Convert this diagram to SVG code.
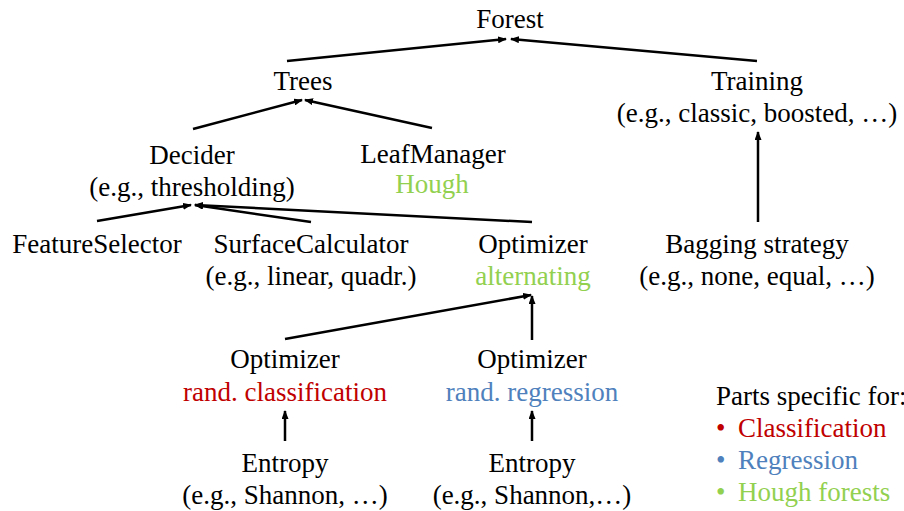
<svg xmlns="http://www.w3.org/2000/svg" width="904" height="511" viewBox="0 0 904 511">
  <style>
    text { font-family: "Liberation Serif", "Times New Roman", serif; font-size: 27px; fill: #000; }
    .c { text-anchor: middle; }
    .red { fill: #c00000; }
    .blue { fill: #4f81bd; }
    .green { fill: #92d050; }
    .link { stroke: #000; stroke-width: 2.5; fill: none; marker-end: url(#arrow); }
  </style>
  <defs>
    <marker id="arrow" markerUnits="userSpaceOnUse" markerWidth="9" markerHeight="7" refX="8" refY="3.5" orient="auto">
      <path d="M0,0 L9,3.5 L0,7 z" fill="#000"/>
    </marker>
  </defs>
  <rect width="904" height="511" fill="#fff"/>

  <!-- arrows point from each part to the component that uses it -->
  <g id="connectors">
    <line class="link" x1="287" y1="61" x2="506" y2="39"/>
    <line class="link" x1="757" y1="61" x2="511" y2="39"/>
    <line class="link" x1="193" y1="129" x2="302" y2="100"/>
    <line class="link" x1="432" y1="128" x2="305" y2="100"/>
    <line class="link" x1="758" y1="222" x2="758" y2="132"/>
    <line class="link" x1="97" y1="221" x2="191" y2="205"/>
    <line class="link" x1="311" y1="222" x2="195" y2="205"/>
    <line class="link" x1="532" y1="222" x2="195" y2="205"/>
    <line class="link" x1="285" y1="339" x2="531" y2="295"/>
    <line class="link" x1="532" y1="340" x2="532" y2="296"/>
    <line class="link" x1="285" y1="441" x2="285" y2="411"/>
    <line class="link" x1="532" y1="441" x2="532" y2="411"/>
  </g>

  <g id="forest"><text class="c" x="510" y="28">Forest</text></g>
  <g id="trees"><text class="c" x="303" y="90">Trees</text></g>
  <g id="training">
    <text class="c" x="757" y="90">Training</text>
    <text class="c" x="757" y="122">(e.g., classic, boosted, …)</text>
  </g>
  <g id="decider">
    <text class="c" x="192" y="164">Decider</text>
    <text class="c" x="192" y="196">(e.g., thresholding)</text>
  </g>
  <g id="leafmanager">
    <text class="c" x="433" y="163">LeafManager</text>
    <text class="c green" x="432" y="193">Hough</text>
  </g>
  <g id="featureselector"><text class="c" x="97" y="253">FeatureSelector</text></g>
  <g id="surfacecalculator">
    <text class="c" x="311" y="253">SurfaceCalculator</text>
    <text class="c" x="311" y="285">(e.g., linear, quadr.)</text>
  </g>
  <g id="optimizer-alternating">
    <text class="c" x="533" y="253">Optimizer</text>
    <text class="c green" x="533" y="285">alternating</text>
  </g>
  <g id="bagging">
    <text class="c" x="757" y="253">Bagging strategy</text>
    <text class="c" x="757" y="285">(e.g., none, equal, …)</text>
  </g>
  <g id="optimizer-classification">
    <text class="c" x="285" y="368">Optimizer</text>
    <text class="c red" x="285" y="401">rand. classification</text>
  </g>
  <g id="optimizer-regression">
    <text class="c" x="532" y="368">Optimizer</text>
    <text class="c blue" x="532" y="401">rand. regression</text>
  </g>
  <g id="entropy-classification">
    <text class="c" x="285" y="472">Entropy</text>
    <text class="c" x="285" y="504">(e.g., Shannon, …)</text>
  </g>
  <g id="entropy-regression">
    <text class="c" x="532" y="472">Entropy</text>
    <text class="c" x="532" y="504">(e.g., Shannon,…)</text>
  </g>

  <g id="legend">
    <text x="716" y="405">Parts specific for:</text>
    <text class="red" x="716" y="437">•</text>
    <text class="red" x="738" y="437">Classification</text>
    <text class="blue" x="716" y="469">•</text>
    <text class="blue" x="738" y="469">Regression</text>
    <text class="green" x="716" y="501">•</text>
    <text class="green" x="738" y="501">Hough forests</text>
  </g>
</svg>
